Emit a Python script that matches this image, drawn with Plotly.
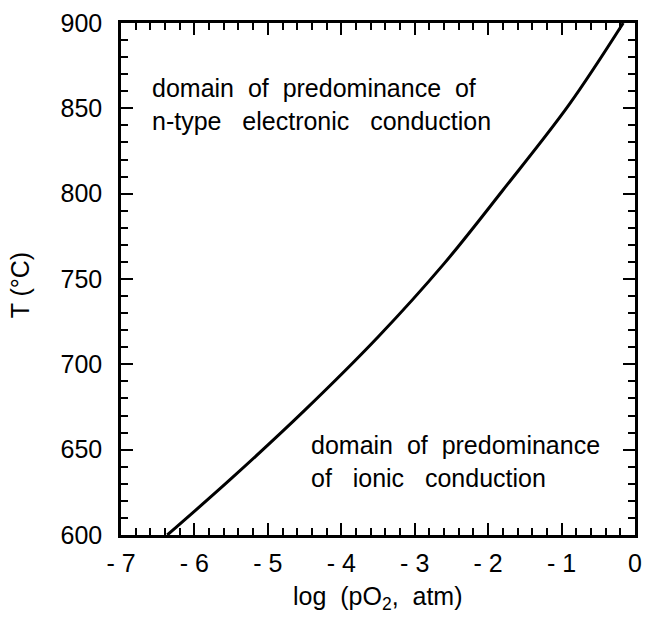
import plotly.graph_objects as go

# Boundary between n-type electronic and ionic conduction
log_po2 = [-6.37, -5.5, -4.5, -3.5, -2.6, -1.8, -0.9, -0.16]
temp_c = [600, 633, 673, 716, 759, 802, 852, 900]

x_tick_vals = [-7, -6, -5, -4, -3, -2, -1, 0]
x_tick_text = ["- 7", "- 6", "- 5", "- 4", "- 3", "- 2", "- 1", "0"]
y_tick_vals = [600, 650, 700, 750, 800, 850, 900]

FONT = "Liberation Sans, Arial, Helvetica, sans-serif"
SP2 = "\u00a0\u00a0"
SP3 = "\u00a0\u00a0\u00a0"

fig = go.Figure()
fig.add_trace(go.Scatter(
    x=log_po2, y=temp_c, mode="lines",
    line=dict(color="black", width=3, shape="spline", smoothing=1.0),
    hoverinfo="skip", showlegend=False,
))

axis_common = dict(
    showline=True, linecolor="black", linewidth=2.5, mirror="allticks",
    ticks="inside", ticklen=12, tickwidth=2, tickcolor="black",
    showgrid=False, zeroline=False,
    tickfont=dict(family=FONT, size=25, color="black"),
)

fig.update_xaxes(
    range=[-7, 0], tickmode="array", tickvals=x_tick_vals, ticktext=x_tick_text,
    minor=dict(dtick=0.2, ticks="inside", ticklen=7, tickwidth=2, tickcolor="black", showgrid=False),
    ticklabelstandoff=4,
    **axis_common,
)
fig.update_yaxes(
    range=[600, 900], tickmode="array", tickvals=y_tick_vals,
    minor=dict(dtick=10, ticks="inside", ticklen=7, tickwidth=2, tickcolor="black", showgrid=False),
    ticklabelstandoff=11,
    **axis_common,
)

fig.add_annotation(
    x=-6.61, y=852, xref="x", yref="y", xanchor="left", yanchor="middle",
    text=f"domain{SP2}of{SP2}predominance{SP2}of<br>n-type{SP3}electronic{SP3}conduction",
    showarrow=False, align="left",
    font=dict(family=FONT, size=25, color="black"),
)
fig.add_annotation(
    x=-4.433, y=642.8, xref="x", yref="y", xanchor="left", yanchor="middle",
    text=f"domain{SP2}of{SP2}predominance<br>of{SP3}ionic{SP3}conduction",
    showarrow=False, align="left",
    font=dict(family=FONT, size=25, color="black"),
)

# Axis titles placed in pixel terms relative to the plotting area
plot_w = 651 - 121 - 9
plot_h = 627 - 17 - 92
fig.add_annotation(
    x=(19 - 121) / plot_w, y=(627 - 92 - 282) / plot_h, xref="paper", yref="paper",
    xanchor="center", yanchor="middle", showarrow=False,
    text="T (°C)", textangle=-90,
    font=dict(family=FONT, size=25, color="black"),
)
fig.add_annotation(
    x=0.5, y=(627 - 92 - 599) / plot_h, xref="paper", yref="paper",
    xanchor="center", yanchor="middle", showarrow=False,
    text=f"log{SP2}(pO<sub>2</sub>,{SP2}atm)",
    font=dict(family=FONT, size=25, color="black"),
)

fig.update_layout(
    width=651, height=627,
    margin=dict(l=121, r=9, t=17, b=92),
    paper_bgcolor="white", plot_bgcolor="white",
)

fig.write_html("out.html")
